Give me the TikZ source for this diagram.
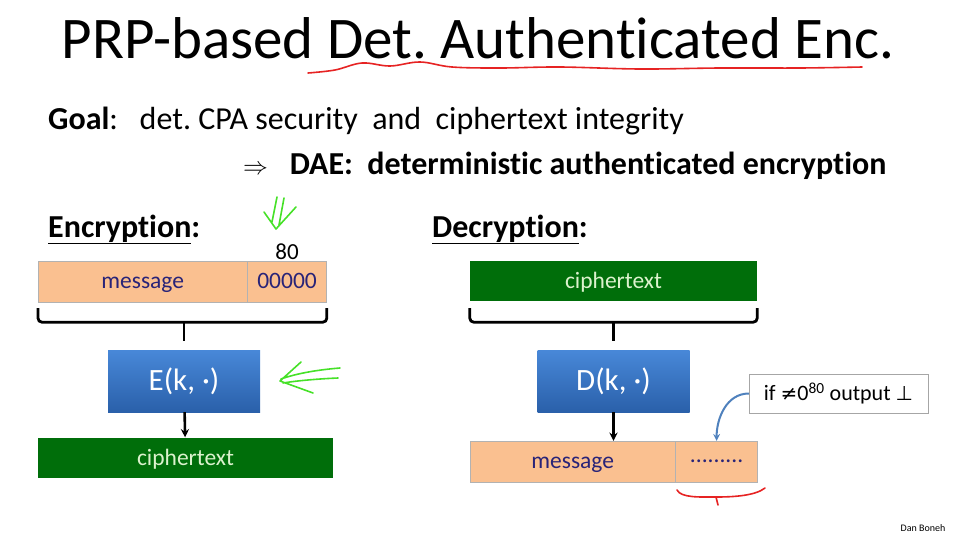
\documentclass[tikz,border=0pt]{standalone}
\usepackage{fontspec}
\setmainfont{Carlito}[Ligatures=NoCommon]
\newfontfamily\symfont{DejaVu Sans}
\usetikzlibrary{positioning}
\frenchspacing
\definecolor{peach}{RGB}{250,192,144}
\definecolor{ctgreen}{RGB}{0,110,10}
\definecolor{ctlight}{RGB}{220,242,205}
\definecolor{navy}{RGB}{40,35,120}
\definecolor{prptop}{RGB}{72,136,216}
\definecolor{prpbot}{RGB}{42,96,170}
\definecolor{calloutblue}{RGB}{79,129,189}
\definecolor{handgreen}{RGB}{70,225,40}
\definecolor{handred}{RGB}{230,35,35}
\tikzstyle{msg} = [rectangle, draw=gray!60, fill=peach, minimum height=41pt, inner sep=0pt, text height=17.5pt, text depth=4pt, text=navy, font=\fontsize{23.5}{26}\selectfont]
\tikzstyle{ctxt} = [rectangle, fill=ctgreen, minimum height=40pt, inner sep=0pt, text height=18pt, text depth=3pt, text=ctlight, font=\fontsize{23.5}{26}\selectfont]
\tikzstyle{prp} = [rectangle, top color=prptop, bottom color=prpbot, minimum width=152pt, minimum height=62pt, text=white, font=\fontsize{31}{34}\selectfont]
\tikzstyle{note} = [rectangle, draw=gray!70, fill=white, minimum width=179pt, minimum height=39pt, font=\fontsize{22}{25}\selectfont]
\tikzstyle{brace} = [line width=2.8pt, rounded corners=4pt]
\tikzstyle{arrow} = [line width=2.6pt,->,>=stealth]
\tikzstyle{hand} = [line width=1.6pt, line cap=round, line join=round]

\begin{document}
\begin{tikzpicture}[x=1pt, y=-1pt]
  \useasboundingbox (0,0) rectangle (953,536);

  % title and goal
  \node[anchor=base, font=\fontsize{59}{64}\selectfont] (title) at (478,58) {PRP-based Det. Authenticated Enc.};
  \node[anchor=base west, inner sep=0pt, font=\fontsize{32}{36}\selectfont] (goal) at (48,129)
    {\textbf{Goal}:\ \ \ det. CPA security\ \ and\ \ ciphertext integrity};
  \node[anchor=base west, inner sep=0pt, font=\fontsize{32}{36}\selectfont] (dae) at (243,174)
    {$\Rightarrow$\ \ \ \textbf{DAE:\ \ deterministic authenticated encryption}};

  % encryption
  \node[anchor=base west, inner sep=0pt, font=\fontsize{32}{36}\selectfont\bfseries] (enchead) at (48,237) {\underline{Encryption}:};
  \node[msg, minimum width=209pt, anchor=west] (encmsg) at (38,281.5) {message};
  \node[msg, minimum width=79pt, right=0pt of encmsg] (pad) {00000};
  \node[above=1pt of pad, inner sep=0pt, font=\fontsize{23}{26}\selectfont] (padlen) {80};
  \node[prp] (enc) at (184,381) {E(k, ·)};
  \node[ctxt, minimum width=295pt] (encct) at (185.5,457.5) {ciphertext};

  \coordinate (encbr) at ([yshift=-20pt]encmsg.south);
  \draw[brace] ([yshift=-6pt]encmsg.south west) |- ([yshift=-20pt]pad.south east) -- ([yshift=-6pt]pad.south east);
  \draw[brace] (encbr -| enc.north) -- ([yshift=9pt]enc.north);
  \draw[arrow] (enc) -- (encct);

  % decryption
  \node[anchor=base west, inner sep=0pt, font=\fontsize{32}{36}\selectfont\bfseries] (dechead) at (432,237) {\underline{Decryption}:};
  \node[ctxt, minimum width=287pt] (decct) at (613.5,281) {ciphertext};
  \node[prp] (dec) at (613.5,381) {D(k, ·)};
  \node[msg, minimum width=205pt, anchor=west] (decmsg) at (470,461.5) {message};
  \node[msg, minimum width=82pt, right=0pt of decmsg] (dots) {\raisebox{6pt}{.........}};
  \node[note] (check) at (838.5,393.5) {if {\symfont\fontsize{20}{24}\selectfont ≠}0\textsuperscript{80} output {\symfont\fontsize{20}{24}\selectfont ⊥}};

  \coordinate (decbr) at ([yshift=-20pt]decct.south);
  \draw[brace] ([yshift=-7pt]decct.south west) |- ([yshift=-21pt]decct.south east) -- ([yshift=-7pt]decct.south east);
  \draw[brace] ([yshift=-1pt]decbr -| dec.north) -- ([yshift=9pt]dec.north);
  \draw[arrow] (dec) -- (decmsg.north -| dec.south);
  \draw[calloutblue, line width=2pt, ->, >=stealth] (check.west) to[out=180, in=90] (dots.north);

  % hand annotations
  \draw[hand, handred] plot[smooth, tension=0.6] coordinates {(308,73) (335,70) (362,63) (390,66) (420,62) (452,67) (500,68) (560,67) (640,69) (720,68) (800,68) (862,67)};
  \draw[hand, handgreen] (277,197) -- (272,222) (284,198) -- (279,225) (264,212) -- (276,229) -- (296,207);
  \draw[hand, handgreen] (340,368) .. controls (315,370) and (295,374) .. (281,379) (338,378) .. controls (315,379) and (295,381) .. (283,383) (301,362) -- (280,381) -- (313,393);
  \draw[hand, handred] (677,490) .. controls (681,498) and (700,497) .. (716,497) .. controls (732,497) and (755,496) .. (765,488) (716,497) -- (718,505);

  \node[anchor=base, font=\fontsize{10}{12}\selectfont] (author) at (923,531) {Dan Boneh};
\end{tikzpicture}
\end{document}
